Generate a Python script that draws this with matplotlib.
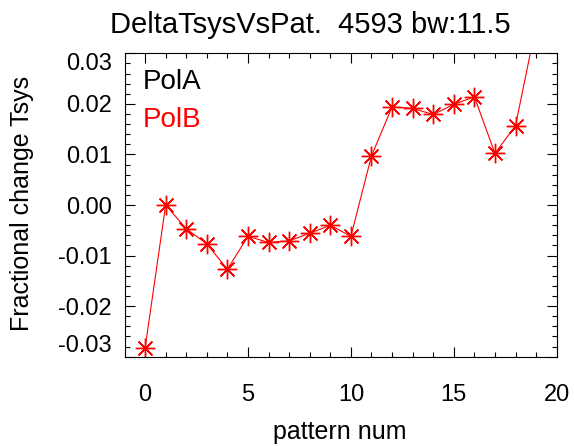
import matplotlib
matplotlib.use("Agg")
import matplotlib.pyplot as plt
from matplotlib.ticker import MultipleLocator

plt.rcParams['font.family'] = ['Liberation Sans', 'DejaVu Sans']

pattern = list(range(20))
polB = [-0.0283, 0.0000, -0.0047, -0.0077, -0.0127, -0.0062, -0.0074, -0.0071,
        -0.0056, -0.0040, -0.0062, 0.0097, 0.0194, 0.0191, 0.0179, 0.0199,
        0.0214, 0.0102, 0.0157, 0.0356]
yticks = [-0.03, -0.02, -0.01, 0.00, 0.01, 0.02, 0.03]
ytick_labels = ['-0.03', '-0.02', '-0.01', '0.00', '0.01', '0.02', '0.03']
xticks = [0, 5, 10, 15, 20]
title = "DeltaTsysVsPat.  4593 bw:11.5"

W, H = 574, 446
fig = plt.figure(figsize=(W / 100, H / 100), dpi=100)
ax = fig.add_axes([124.5 / W, 1 - 356.7 / H, (556.7 - 124.5) / W, (356.7 - 53.3) / H])

ax.plot(pattern, polB, color='#ff0000', lw=0.8, marker=(8, 2, 0), ms=14,
        mew=1.0, clip_on=True)

ax.set_xlim(-1, 20)
ax.set_ylim(-0.03, 0.03)
ax.set_xticks(xticks)
ax.set_xticklabels([str(v) for v in xticks])
ax.set_yticks(yticks)
ax.set_yticklabels(ytick_labels)
ax.xaxis.set_minor_locator(MultipleLocator(1))
ax.yaxis.set_minor_locator(MultipleLocator(0.002))
ax.tick_params(which='both', direction='in', top=True, right=True, colors='black',
               labelsize=17, width=0.8)
ax.tick_params(which='major', length=7)
ax.tick_params(which='minor', length=3.5)
ax.tick_params(axis='y', pad=9)
ax.tick_params(axis='x', pad=20)
for s in ax.spines.values():
    s.set_linewidth(0.8)

labs = ax.get_yticklabels()
labs[0].set_verticalalignment('bottom')
labs[-1].set_verticalalignment('top')

fig.text(340 / W, 1 - 432 / H, 'pattern num', fontsize=18, ha='center', va='center')
fig.text(22 / W, 1 - 203.5 / H, 'Fractional change Tsys', fontsize=18,
         ha='center', va='center', rotation=90)

fig.text(143 / W, 1 - 82 / H, 'PolA', color='black', fontsize=20, va='center', ha='left')
fig.text(143 / W, 1 - 120 / H, 'PolB', color='#ff0000', fontsize=20, va='center', ha='left')

fig.text(310 / W, 1 - 25 / H, title, fontsize=21, ha='center', va='center')

fig.savefig('out.png', dpi=100)
